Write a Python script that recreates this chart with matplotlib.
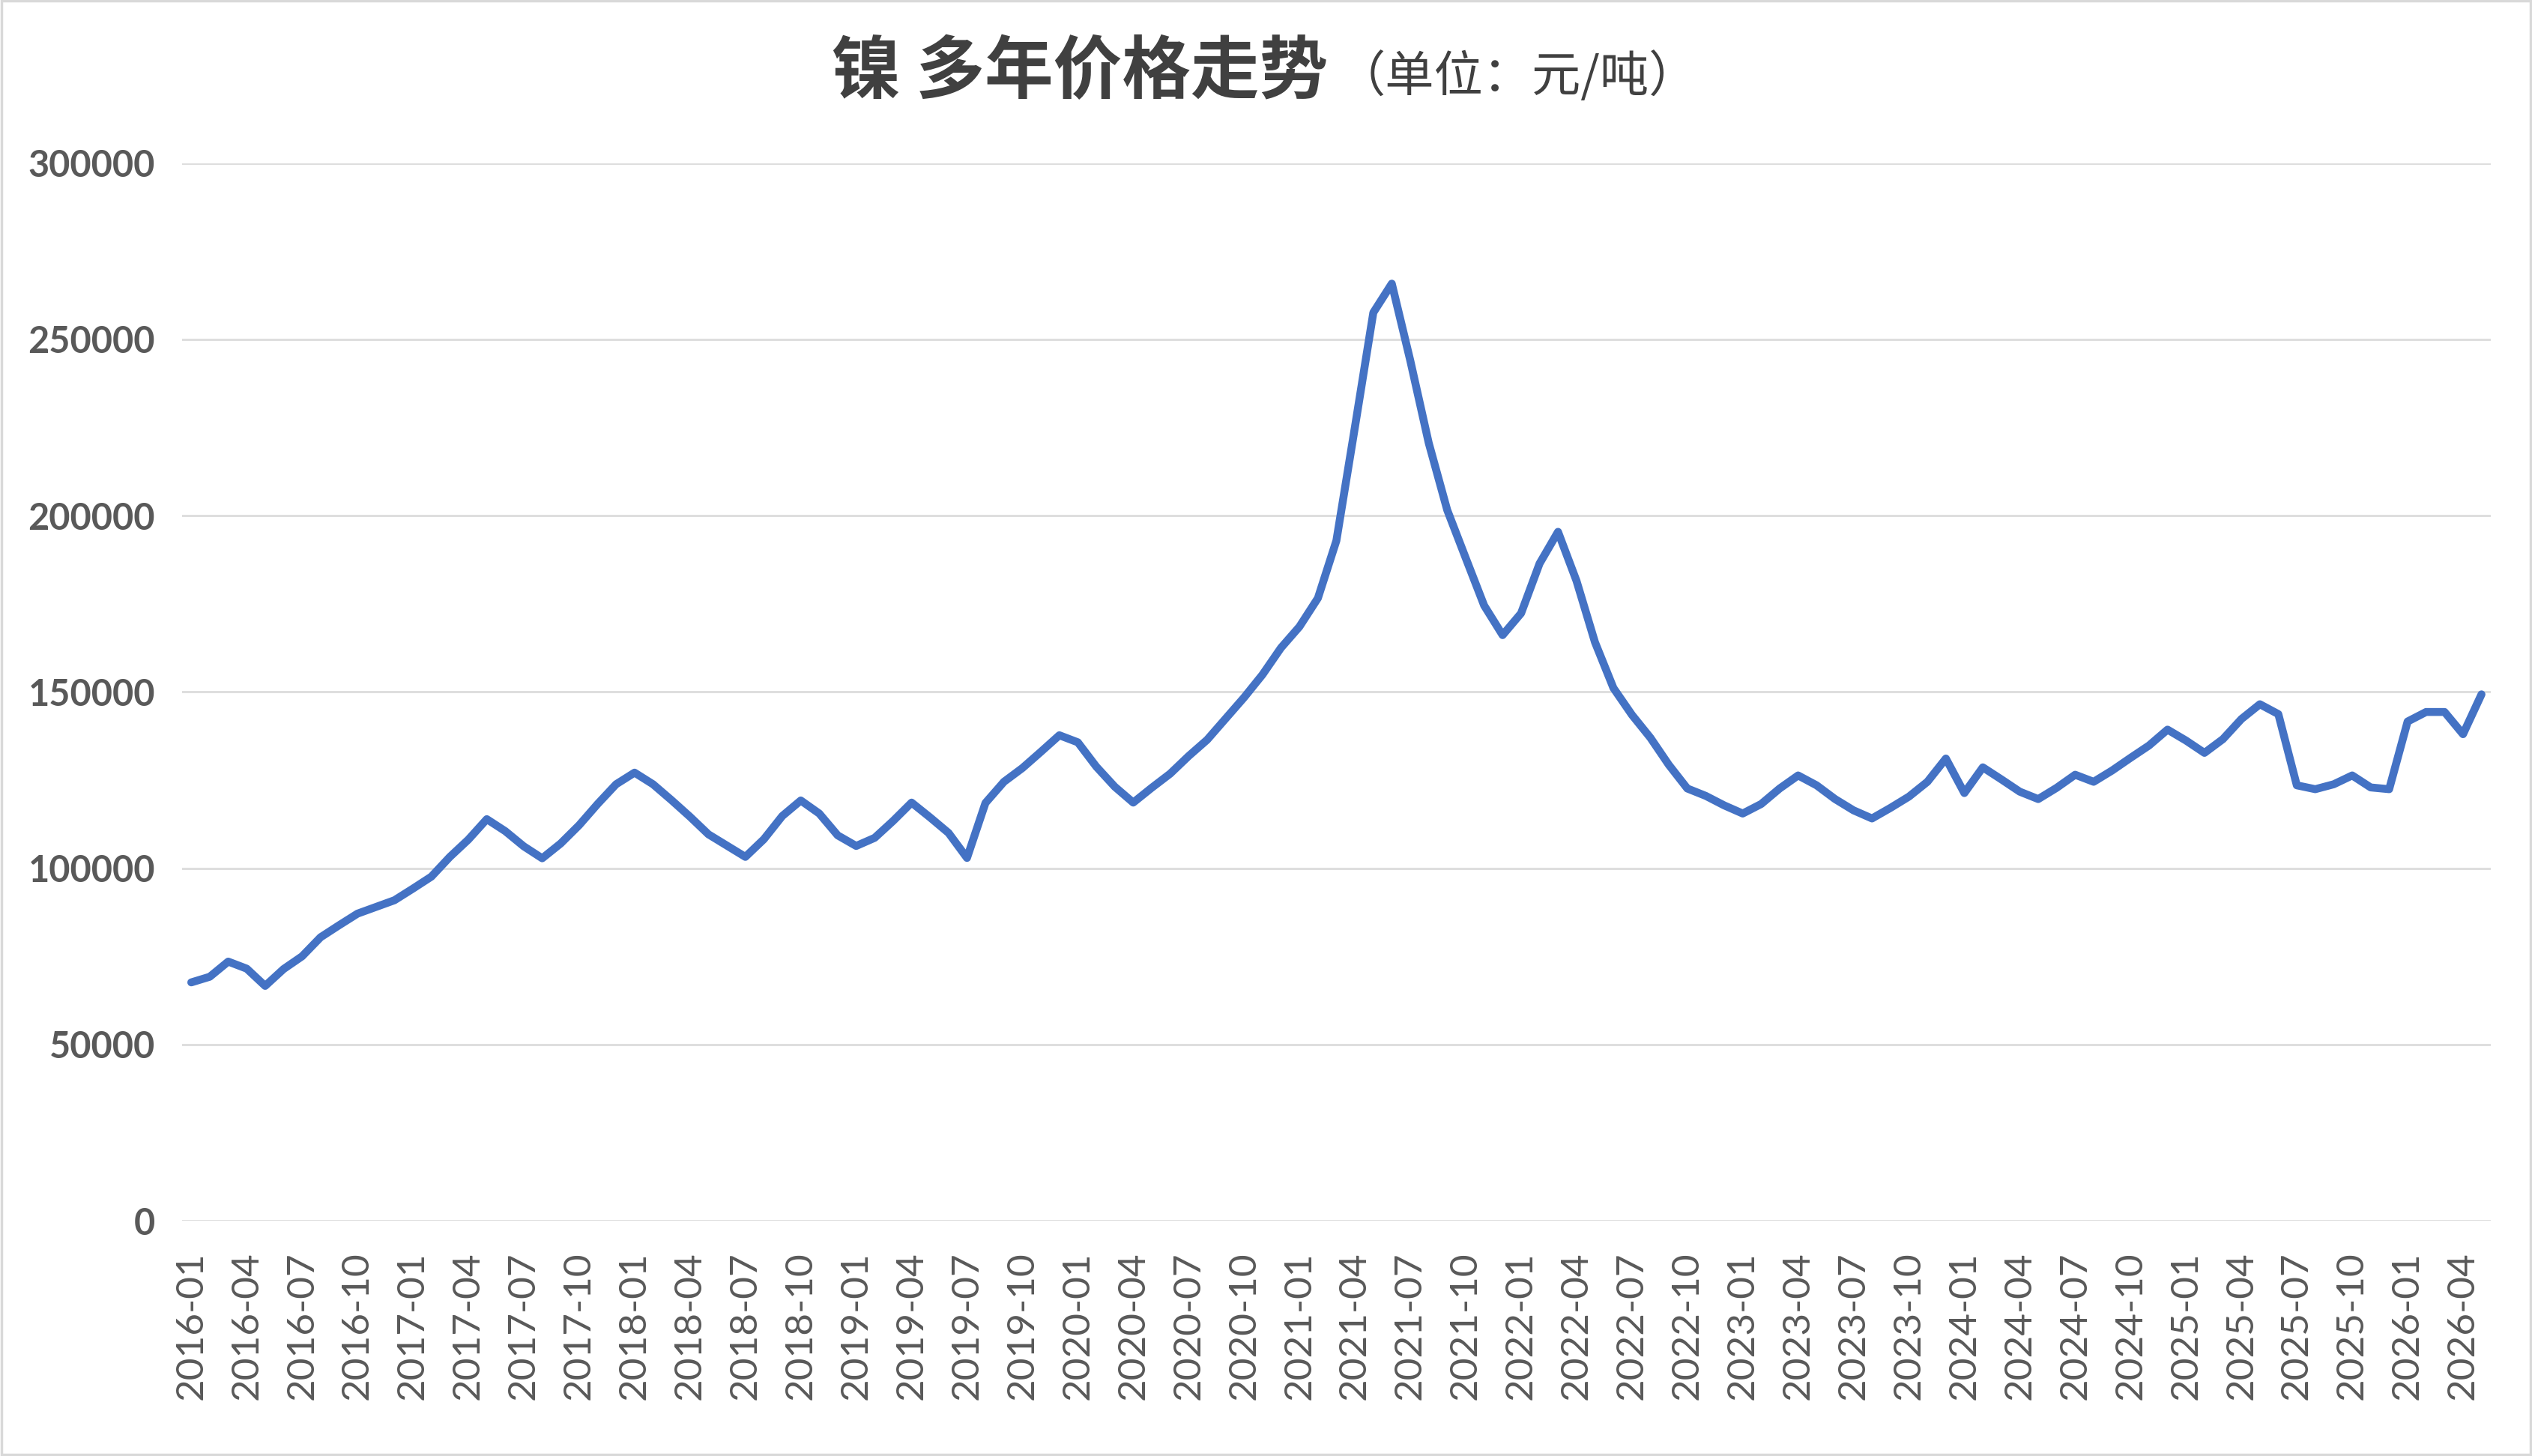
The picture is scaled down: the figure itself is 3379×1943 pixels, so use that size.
import numpy as np
import pandas as pd
import matplotlib
matplotlib.use('Agg')
import matplotlib.pyplot as plt
from matplotlib.patches import Rectangle

# 镍 月度价格 (元/吨), 2016-01 .. 2026-05
months = pd.date_range('2016-01-01', '2026-05-01', freq='MS').strftime('%Y-%m').tolist()
price = [
    67600, 69200, 73500, 71500, 66600, 71400, 75000, 80400, 83800, 87100,
    89000, 90900, 94200, 97600, 103200, 108100, 113900, 110500, 106200, 102800,
    107000, 112200, 118200, 123800, 127100, 123800, 119300, 114600, 109600, 106400,
    103200, 108200, 114800, 119200, 115500, 109300, 106300, 108600, 113400, 118600,
    114400, 110000, 102900, 118500, 124500, 128400, 133000, 137700, 135700, 128800,
    123100, 118600, 122800, 126800, 131800, 136400, 142400, 148400, 154900, 162500,
    168500, 176600, 192900, 225000, 257600, 265800, 244000, 220600, 201600, 188000,
    174500, 166100, 172300, 186400, 195400, 181500, 164100, 151100, 143500, 137000,
    129300, 122600, 120500, 117800, 115500, 118200, 122600, 126300, 123500, 119600,
    116400, 114100, 117100, 120300, 124500, 131100, 121300, 128600, 125200, 121700,
    119600, 122800, 126500, 124500, 127700, 131300, 134800, 139300, 136200, 132700,
    136600, 142300, 146500, 143700, 123500, 122400, 123800, 126300, 122900, 122400,
    141600, 144300, 144300, 138000, 149300,
]
y_ticks = [0, 50000, 100000, 150000, 200000, 250000, 300000]
title_main = '镍 多年价格走势'
title_unit = '（单位：元/吨）'

txt_color = '#595959'
x = np.arange(len(months))

fig = plt.figure(figsize=(33.79, 19.43), dpi=100)
ax = fig.add_axes([0.0719, 0.1616, 0.9118, 0.7264])

ax.plot(x, price, color='#4472C4', linewidth=7.6, solid_joinstyle='round', solid_capstyle='round', zorder=3)

ax.set_xlim(-0.5, len(months) - 0.5)
ax.set_ylim(0, 300000)
ax.set_yticks(y_ticks)
ax.set_yticklabels([str(v) for v in y_ticks], fontsize=35, fontweight='bold',
                   color=txt_color, family=['Lato', 'DejaVu Sans'])
ax.set_xticks(x[::3])
ax.set_xticklabels(months[::3], rotation=90, fontsize=37, color=txt_color,
                   family=['Lato', 'DejaVu Sans'])
ax.tick_params(axis='both', length=0)
ax.tick_params(axis='y', pad=26)
ax.tick_params(axis='x', pad=30)
ax.grid(axis='y', color='#dedede', linewidth=2.2)
ax.set_axisbelow(True)
for s in ax.spines.values():
    s.set_visible(False)

fig.text(0.3285, 0.950, title_main, fontsize=66, fontweight='bold', color='#404040',
         family=['Noto Sans CJK SC', 'DejaVu Sans'], ha='left', va='center')
fig.text(0.528, 0.947, title_unit, fontsize=47, color='#404040',
         family=['Noto Sans CJK SC', 'DejaVu Sans'], ha='left', va='center')

fig.patches.append(Rectangle((0.0005, 0.0008), 0.999, 0.9985, transform=fig.transFigure,
                             fill=False, edgecolor='#d9d9d9', linewidth=2.5))

fig.savefig('out.png', dpi=100, facecolor='white')
